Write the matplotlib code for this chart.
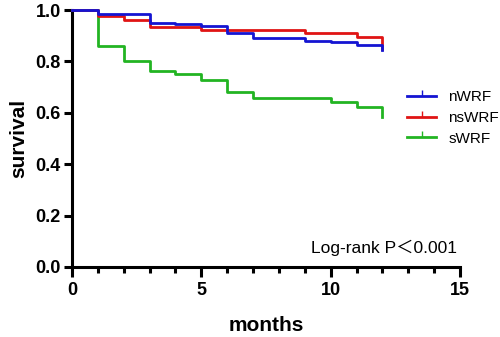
import numpy as np
import matplotlib
matplotlib.use("Agg")
import matplotlib.pyplot as plt
from matplotlib.lines import Line2D

plt.rcParams['font.family'] = ['Liberation Sans', 'Noto Sans CJK SC', 'DejaVu Sans']

# survival, one value per month
months = [0, 1, 2, 3, 4, 5, 6, 7, 8, 9, 10, 11, 12]
nWRF = [1.0, 0.984, 0.984, 0.951, 0.946, 0.938, 0.909, 0.892, 0.892, 0.879, 0.874, 0.866, 0.845]
nsWRF = [1.0, 0.977, 0.961, 0.935, 0.935, 0.922, 0.922, 0.922, 0.922, 0.909, 0.909, 0.896, 0.85]
sWRF = [1.0, 0.861, 0.801, 0.764, 0.751, 0.728, 0.682, 0.656, 0.656, 0.656, 0.643, 0.621, 0.584]

groups = ['nWRF', 'nsWRF', 'sWRF']
colors = ['#1414d2', '#e01414', '#22b422']

fig = plt.figure(figsize=(5, 3.37), dpi=100)
ax = fig.add_axes([0.144, 0.208, 0.776, 0.762])

# draw green first so blue/red sit on top like the original
for name, vals, c in zip(groups[::-1], [sWRF, nsWRF, nWRF], colors[::-1]):
    ax.step(months, vals, where='post', color=c, lw=2.0, clip_on=False, zorder=3)

ax.set_xlim(0, 15)
ax.set_ylim(0, 1.0)
ax.set_xticks([0, 5, 10, 15])
ax.set_xticks(np.arange(0, 16, 1), minor=True)
ax.set_yticks(np.arange(0, 1.01, 0.2))
ax.set_yticklabels(['%.1f' % v for v in np.arange(0, 1.01, 0.2)])

for s in ['top', 'right']:
    ax.spines[s].set_visible(False)
for s in ['left', 'bottom']:
    ax.spines[s].set_linewidth(2.2)

ax.tick_params(axis='y', which='major', direction='out', width=2.2, length=6,
               labelsize=13, pad=2)
ax.tick_params(axis='x', which='major', direction='out', width=2.2, length=7,
               labelsize=13, pad=4)
ax.tick_params(axis='x', which='minor', direction='out', width=2.2, length=4)
for lab in ax.get_xticklabels() + ax.get_yticklabels():
    lab.set_fontweight('bold')

ax.set_xlabel('months', fontsize=15, fontweight='bold', labelpad=12)
ax.set_ylabel('survival', fontsize=15, fontweight='bold', labelpad=5)

ax.text(14.9, 0.075, 'Log-rank P＜0.001', fontsize=12.5, ha='right', va='center')

handles = [Line2D([0], [0], color=c, lw=2.0, marker=2, markersize=4, markevery=[1])
           for c in colors]
for h in handles:
    h.set_xdata([0, 0.5, 1])
    h.set_ydata([0, 0, 0])
fig.legend(handles, groups, loc='center left', bbox_to_anchor=(0.814, 0.65),
           frameon=False, fontsize=11, handlelength=1.9, handletextpad=0.8,
           labelspacing=0.45, borderpad=0, borderaxespad=0)

fig.savefig('out.png', dpi=100)
